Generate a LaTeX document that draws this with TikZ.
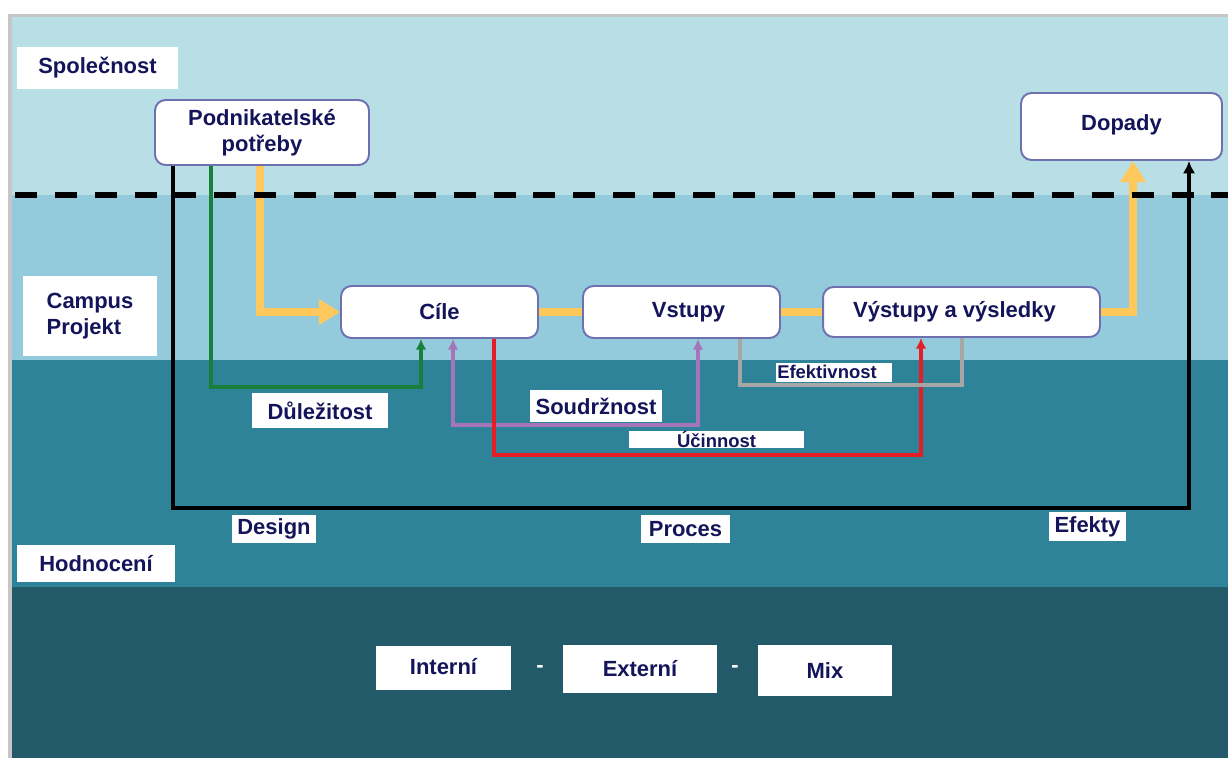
\documentclass[tikz,border=0pt]{standalone}
\usepackage{fontspec}
\setmainfont{Liberation Sans}
\usepackage{tikz}
\usetikzlibrary{arrows.meta,positioning}
\tikzset{>=latex}
\definecolor{bandA}{RGB}{184,222,230}
\definecolor{bandB}{RGB}{147,203,220}
\definecolor{bandC}{RGB}{46,131,153}
\definecolor{bandD}{RGB}{34,90,105}
\definecolor{navy}{RGB}{20,20,90}
\definecolor{boxline}{RGB}{110,112,176}
\definecolor{myyellow}{RGB}{255,200,92}
\definecolor{mygreen}{RGB}{24,128,58}
\definecolor{mypurple}{RGB}{166,116,184}
\definecolor{myred}{RGB}{229,30,37}
\definecolor{mygray}{RGB}{166,166,166}
\tikzset{
  stage/.style={draw=boxline, line width=1.1pt, fill=white, rounded corners=6pt, text=navy,
    font=\bfseries\fontsize{12.5}{14.8}\selectfont, align=center, inner sep=0pt},
  tag/.style={fill=white, text=navy, font=\bfseries\fontsize{12.5}{14.8}\selectfont, inner sep=0pt},
  smalltag/.style={tag, font=\bfseries\fontsize{10.5}{12}\selectfont},
  thin link/.style={line width=2.1pt},
  small tip/.style={-{Latex[length=6pt,width=6pt]}},
  big tip/.style={-{Triangle[length=12pt,width=14pt]}}
}

\begin{document}
\begin{tikzpicture}[x=0.02cm, y=-0.02cm]
\useasboundingbox (0,0) rectangle (1228,758);
\fill[white] (0,0) rectangle (1228,758);
\fill[gray!45] (8,14) rectangle (1228,758);
% bands
\fill[bandA] (12,17) rectangle (1228,195);
\fill[bandB] (12,195) rectangle (1228,360);
\fill[bandC] (12,360) rectangle (1228,587);
\fill[bandD] (12,587) rectangle (1228,758);

% level labels
\node[tag, minimum width=3.22cm, minimum height=0.84cm] (spol) at (97.5,68) {Společnost};
\node[tag, minimum width=2.68cm, minimum height=1.6cm, align=left] (campus) at (90,316) {Campus\\Projekt};
\node[tag, minimum width=3.16cm, minimum height=0.74cm] (hodn) at (96,563.5) {Hodnocení};

% stages
\node[stage, minimum width=4.28cm, minimum height=1.3cm] (potreby) at (262,132.5) {Podnikatelské\\potřeby};
\node[stage, minimum width=4.02cm, minimum height=1.34cm] (dopady) at (1121.5,126.5) {\raisebox{4pt}{Dopady}};
\node[stage, minimum width=3.94cm, minimum height=1.04cm] (cile) at (439.5,312) {Cíle};
\node[stage, minimum width=3.94cm, minimum height=1.04cm] (vstupy) at (681.5,312) {\hspace*{8pt}Vstupy};
\node[stage, minimum width=5.54cm, minimum height=1.0cm] (vystupy) at (961.5,312) {Výstupy a výsledky\hspace*{8pt}};

% criteria labels
\node[tag, minimum width=2.72cm, minimum height=0.7cm] (dulez) at (320,410.5) {Důležitost};
\node[tag, minimum width=2.64cm, minimum height=0.64cm] (soudr) at (596,406) {Soudržnost};
\node[smalltag, minimum width=2.32cm, minimum height=0.38cm] (efektiv) at (834,372) {Efektivnost\hspace*{8pt}};
\node[smalltag, minimum width=3.5cm, minimum height=0.34cm] (ucinn) at (716.5,439) {Účinnost};
\node[tag, minimum width=1.68cm, minimum height=0.56cm] (design) at (274,529) {Design};
\node[tag, minimum width=1.78cm, minimum height=0.56cm] (proces) at (685.5,529) {Proces};
\node[tag, minimum width=1.54cm, minimum height=0.58cm] (efekty) at (1087.5,526.5) {Efekty};

% evaluation types
\node[tag, minimum width=2.7cm, minimum height=0.88cm] (interni) at (443.5,668) {\raisebox{2pt}{Interní}};
\node[tag, minimum width=3.08cm, minimum height=0.96cm] (externi) at (640,669) {Externí};
\node[tag, minimum width=2.68cm, minimum height=1.02cm] (mix) at (825,670.5) {Mix};
\node[tag, fill=none, text=white] (dashA) at (540,669) {-};
\node[tag, fill=none, text=white] (dashB) at (735,669) {-};

% turning points of the connectors
\coordinate (kblack) at (173,508);
\coordinate (kblackB) at (1189,0);
\coordinate (kgreen) at (211,387);
\coordinate (kgreenB) at (421,0);
\coordinate (kyellow) at (260,0);
\coordinate (kyellowB) at (1133,0);
\coordinate (kpurple) at (453,425);
\coordinate (kpurpleB) at (698,0);
\coordinate (kred) at (494,455);
\coordinate (kredB) at (921,0);
\coordinate (kgray) at (740,385);
\coordinate (kgrayB) at (962,0);

\draw[line width=2.4pt, -{Latex[length=7pt,width=7pt]}] (potreby.south -| kblack) -- (kblack) -| (dopady.south -| kblackB);
\draw[thin link, mygreen, small tip] (potreby.south -| kgreen) -- (kgreen) -| (cile.south -| kgreenB);
\draw[thin link, mypurple, {Latex[length=6pt,width=6pt]}-{Latex[length=6pt,width=6pt]}] (cile.south -| kpurple) -- (kpurple) -| (vstupy.south -| kpurpleB);
\draw[thin link, myred, small tip] (cile.south -| kred) -- (kred) -| (vystupy.south -| kredB);
\draw[thin link, mygray] (vstupy.south -| kgray) -- (kgray) -| (vystupy.south -| kgrayB);

\draw[myyellow, line width=4.5pt, big tip] (potreby.south -| kyellow) |- (cile);
\draw[myyellow, line width=4.5pt] (cile) -- (vstupy);
\draw[myyellow, line width=4.5pt] (vstupy) -- (vystupy);
\draw[myyellow, line width=4.5pt, big tip] (vystupy) -| (dopady.south -| kyellowB);

% border of the society level
\draw[line width=3.2pt, dash pattern=on 12.5pt off 10.2pt] (15,195) -- (1228,195);
\end{tikzpicture}
\end{document}
